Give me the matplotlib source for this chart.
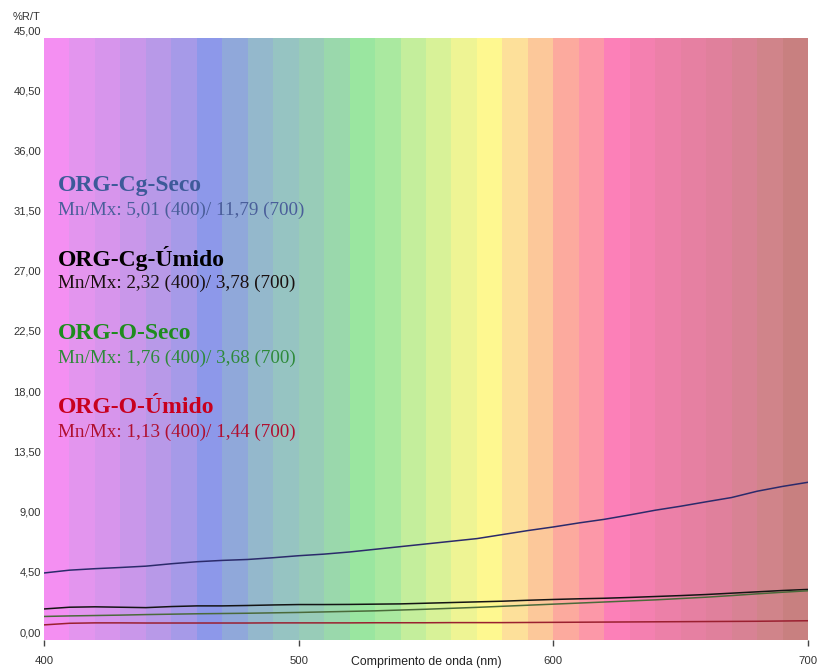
import matplotlib
matplotlib.use('Agg')
import matplotlib.pyplot as plt
from matplotlib.transforms import ScaledTranslation

# ---------------- data ----------------
wavelength = [400, 410, 420, 430, 440, 450, 460, 470, 480, 490, 500,
              510, 520, 530, 540, 550, 560, 570, 580, 590, 600,
              610, 620, 630, 640, 650, 660, 670, 680, 690, 700]

cg_seco = [5.01, 5.22, 5.33, 5.42, 5.52, 5.70, 5.85, 5.95, 6.02, 6.15, 6.30,
           6.42, 6.58, 6.78, 6.98, 7.18, 7.38, 7.58, 7.88, 8.18, 8.45,
           8.75, 9.02, 9.35, 9.70, 10.00, 10.33, 10.65, 11.12, 11.48, 11.79]

cg_umido = [2.32, 2.45, 2.48, 2.45, 2.42, 2.50, 2.55, 2.55, 2.58, 2.62, 2.65,
            2.65, 2.66, 2.68, 2.70, 2.75, 2.80, 2.85, 2.90, 2.97, 3.03,
            3.08, 3.12, 3.18, 3.25, 3.32, 3.40, 3.50, 3.60, 3.70, 3.78]

o_seco = [1.76, 1.80, 1.83, 1.86, 1.90, 1.93, 1.96, 1.98, 2.00, 2.03, 2.06,
          2.10, 2.14, 2.18, 2.24, 2.30, 2.37, 2.44, 2.52, 2.60, 2.68,
          2.76, 2.84, 2.92, 3.00, 3.10, 3.20, 3.32, 3.45, 3.57, 3.68]

o_umido = [1.13, 1.25, 1.28, 1.28, 1.27, 1.27, 1.27, 1.27, 1.27, 1.28, 1.28,
           1.28, 1.28, 1.29, 1.29, 1.29, 1.30, 1.30, 1.30, 1.31, 1.32,
           1.33, 1.34, 1.35, 1.36, 1.37, 1.38, 1.39, 1.40, 1.42, 1.44]

band_start = [400, 410, 420, 430, 440, 450, 460, 470, 480, 490,
              500, 510, 520, 530, 540, 550, 560, 570, 580, 590,
              600, 610, 620, 630, 640, 650, 660, 670, 680, 690]
band_colors = ['#f48ff2', '#e395ee', '#d795ec', '#c997ea', '#b899e8',
               '#a69ae8', '#8d98ea', '#90a8da', '#94b8cc', '#96c4c2',
               '#98ccb8', '#9ad8ac', '#9ae6a0', '#aae9a0', '#c4ee9c',
               '#d8f298', '#eef494', '#fef890', '#fde09a', '#fcc89a',
               '#fcaa9e', '#fc98a8', '#fc80b8', '#f480b0', '#ec80a8',
               '#e680a2', '#e0809c', '#d88294', '#d0848a', '#c88080']

y_ticks = [0, 4.5, 9, 13.5, 18, 22.5, 27, 31.5, 36, 40.5, 45]
y_tick_labels = ['0,00', '4,50', '9,00', '13,50', '18,00', '22,50',
                 '27,00', '31,50', '36,00', '40,50', '45,00']
x_ticks = [400, 500, 600, 700]
x_tick_labels = ['400', '500', '600', '700']

series_names = ['ORG-Cg-Seco', 'ORG-Cg-Úmido', 'ORG-O-Seco', 'ORG-O-Úmido']
series_sub = ['Mn/Mx: 5,01 (400)/ 11,79 (700)',
              'Mn/Mx: 2,32 (400)/ 3,78 (700)',
              'Mn/Mx: 1,76 (400)/ 3,68 (700)',
              'Mn/Mx: 1,13 (400)/ 1,44 (700)']

# ---------------- figure ----------------
W, H = 823, 671
fig = plt.figure(figsize=(W / 100, H / 100), dpi=100)
ax = fig.add_axes([44 / W, 31 / H, 764 / W, 602 / H])
ax.set_xlim(400, 700)
ax.set_ylim(0, 45)

for s, c in zip(band_start, band_colors):
    ax.axvspan(s, s + 10, color=c, lw=0, zorder=0)

line_colors = ['#2b2a6b', '#141414', '#4a6a3a', '#9a2030']
for ys, lc in zip([cg_seco, cg_umido, o_seco, o_umido], line_colors):
    ax.plot(wavelength, ys, color=lc, lw=1.1, zorder=3)

for sp in ax.spines.values():
    sp.set_visible(False)

sans = 'Liberation Sans'
ax.set_yticks(y_ticks)
ax.set_yticklabels(y_tick_labels, fontsize=8, color='#333333', family=sans)
ax.tick_params(axis='y', length=0, pad=2)
for lab in ax.get_yticklabels():
    lab.set_transform(lab.get_transform() + ScaledTranslation(0, 8 / 100, fig.dpi_scale_trans))

ax.set_xticks(x_ticks)
ax.set_xticklabels(x_tick_labels, fontsize=8.2, color='#333333', family=sans)
ax.tick_params(axis='x', length=4.3, width=1.0, color='#444444', pad=7.5, direction='out')

ax.set_xlabel('Comprimento de onda (nm)', fontsize=8.8, color='#222222', family=sans, va='center')
ax.xaxis.set_label_coords(0.5, -22 / 602)

fig.text(12.5 / W, 1 - 16.5 / H, '%R/T', fontsize=8, color='#333333', family=sans,
         ha='left', va='center')

title_colors = ['#3d5a99', '#000000', '#1e8c1e', '#c8001e']
sub_colors = ['#4a5e9a', '#1a1010', '#2e8a3a', '#b01030']
title_base = [190.7, 266, 339, 413]
sub_base = [215, 288, 362.5, 436.5]
serif = 'Liberation Serif'
for name, sub, tc, sc, tb, sbase in zip(series_names, series_sub, title_colors,
                                        sub_colors, title_base, sub_base):
    fig.text(58 / W, 1 - tb / H, name, fontsize=17, fontweight='bold', color=tc,
             family=serif, ha='left', va='baseline')
    fig.text(58 / W, 1 - sbase / H, sub, fontsize=13.8, color=sc,
             family=serif, ha='left', va='baseline')

fig.savefig('out.png', dpi=100)
